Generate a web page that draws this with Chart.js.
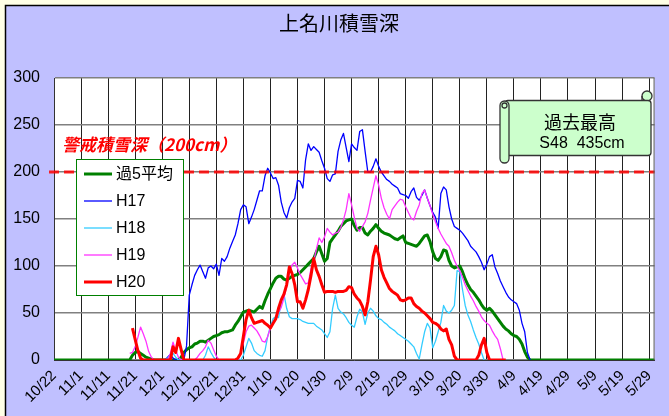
<!DOCTYPE html>
<html>
<head>
<meta charset="utf-8">
<script src="https://cdn.jsdelivr.net/npm/chart.js@4.4.1/dist/chart.umd.min.js"></script>
<style>
  html, body { margin: 0; padding: 0; background: #FFFFE6; }
  canvas { display: block; }
</style>
</head>
<body>
<canvas id="snowChart" width="669" height="416"></canvas>
<script>
// x軸の目盛 (10日おき、10/22 = 0日目)
const xTickLabels = ['10/22', '11/1', '11/11', '11/21', '12/1', '12/11', '12/21', '12/31',
  '1/10', '1/20', '1/30', '2/9', '2/19', '2/29', '3/10', '3/20', '3/30', '4/9', '4/19',
  '4/29', '5/9', '5/19', '5/29'];
const lastDay = 222;          // 5/31
const yTicks = [0, 50, 100, 150, 200, 250, 300];
const alertDepth = 200;       // 警戒積雪深

// 過5平均 (0日目から)
const avgStart = 0;
const avg5 = [
  0, 0, 0, 0, 0, 0, 0, 0, 0, 0, 0, 0, 0, 0, 0, 0, 0, 0, 0, 0,
  0, 0, 0, 0, 0, 0, 0, 0, 0, 5, 8, 9, 7, 5, 3, 2, 1, 0, 0, 0,
  0, 0, 0, 0, 0, 0, 0, 3, 8, 11, 13, 14, 17, 18, 20, 20, 19, 21, 23, 25,
  26, 27, 29, 30, 30, 31, 32, 37, 41, 46, 51, 52, 53, 52, 51, 54, 57, 55, 63, 70,
  76, 82, 87, 89, 89, 86, 85, 87, 89, 90, 91, 93, 96, 99, 102, 105, 108, 115, 121, 113,
  105, 108, 125, 129, 133, 137, 142, 145, 148, 149, 150, 143, 138, 141, 141, 135, 133, 137, 140, 144,
  140, 137, 135, 134, 133, 131, 129, 128, 130, 132, 125, 124, 123, 122, 121, 124, 128, 132, 133, 126,
  115, 108, 106, 110, 117, 116, 106, 100, 98, 99, 100, 94, 86, 80, 75, 72, 68, 64, 59, 55,
  53, 55, 52, 48, 44, 40, 36, 33, 31, 28, 26, 25, 22, 17, 9, 3, 0, 0, 0, 0,
  0, 0, 0, 0, 0, 0, 0, 0, 0, 0, 0, 0, 0, 0, 0, 0, 0, 0, 0, 0,
  0, 0, 0, 0, 0, 0, 0, 0, 0, 0, 0, 0, 0, 0, 0, 0, 0, 0, 0, 0,
  0, 0, 0
];

// H17 (40日目から)
const h17Start = 40;
const h17 = [
  0, 0, 3, 6, 2, 0, 0, 0, 0,
  15, 69, 80, 90, 96, 101, 94, 87, 98, 100, 97, 102, 90, 108, 105, 110, 119, 126, 133, 145, 160, 165, 163, 145,
  152, 160, 170, 180, 180, 196, 204, 199, 193, 194, 186, 168, 157, 151, 162, 168, 172, 191, 190, 183,
  213, 230, 223, 227, 224, 221, 212, 204, 193, 190, 197, 198, 222, 234, 241, 226, 211, 230, 226, 223, 243, 245, 222, 200, 200, 206, 214,
  206, 200, 196, 192, 190, 187, 185, 183, 177, 176, 175, 172, 179, 183, 173, 170, 175, 181, 172, 164, 157, 152, 140, 177, 184, 181,
  163, 150, 142, 140, 138, 135, 131, 127, 121, 118, 115, 110, 104, 96, 102, 110, 112, 99, 92, 84, 78, 72, 67, 64, 62, 60, 53, 39, 30, 8, 0
];

// H18 (40日目から)
const h18Start = 40;
const h18 = [
  0, 0, 2, 5, 7, 3, 0, 0, 0, 0, 0, 0, 0, 0, 0, 0, 5, 14, 8, 3,
  0, 0, 0, 0, 0, 0, 0, 0, 0, 0,
  5, 14, 23, 18, 10, 7, 5, 4, 10, 25,
  36, 44, 46, 45, 62, 70, 55, 46, 44, 44,
  44, 43, 41, 40, 39, 39, 39, 36, 34, 32,
  28, 24, 30, 55, 69, 55, 51, 49, 45, 40,
  37, 35, 46, 54, 51, 38, 50, 55, 52, 47,
  44, 43, 40, 38, 35, 33, 31, 28, 26, 24,
  22, 20, 17, 14, 7, 1, 16, 30, 39, 34,
  13, 20, 30, 40, 58, 52, 50, 53, 58, 95,
  94, 75, 58, 48, 41, 32, 24, 17, 8, 0
];

// H19 (28日目から)
const h19Start = 28;
const h19 = [
  7, 8, 14, 24, 35, 28, 20, 9, 3,
  0, 0, 0, 0, 0, 0,
  7, 19, 10, 3,
  0, 0, 0, 0, 0, 0,
  3, 7, 10, 14, 21, 18, 11, 4,
  0, 0, 0, 0, 0, 0, 0, 0,
  8, 18, 30, 36, 37, 34, 31, 26, 20, 19, 25, 34, 40, 44, 51, 56, 66, 78, 92, 101,
  104, 98, 91, 86, 81, 82, 97, 105, 118, 130, 125, 131, 140, 136, 133, 135,
  136, 141, 149, 160, 177, 165, 152, 140, 137, 142, 147, 156, 170, 183, 196, 186, 172, 162, 155, 150,
  160, 164, 168, 171, 170, 163, 157, 151, 149, 158, 165, 177, 181, 172, 164, 155, 147, 140, 134, 129,
  124, 121, 114, 106, 100, 95, 88, 80, 74, 68, 63, 57, 52, 46, 42, 39, 37, 31, 26, 22,
  12, 0
];

// H20 (29日目から)
const h20Start = 29;
const h20 = [
  34, 22, 10, 2, 0, 0, 0, 0, 0, 0, 0, 0, 0, 0, 0, 14, 8, 23, 11, 0,
  0, 0, 0, 0, 0, 0, 0, 0, 0, 0, 0, 0, 0, 0, 0, 0, 0, 0, 0,
  2, 7, 25, 43, 53, 45, 39, 40, 41, 42, 39, 37, 34, 39, 44, 55, 64, 70, 80, 99,
  92, 80, 62, 62, 55, 64, 75, 90, 108, 96, 89, 80, 72,
  73, 73, 73, 72, 73, 73, 73, 74, 78, 77, 70, 66, 63, 57, 48, 62, 85, 110, 121,
  112, 96, 88, 82, 76, 73, 71, 69, 64, 63, 64, 66, 66, 60, 57, 55, 52, 50, 47, 44,
  40, 39, 37, 33, 31, 33, 22, 16, 4,
  0, 0, 0, 0, 0, 0, 0, 0, 5, 16, 23, 8, 0, 0, 0, 0, 0, 0, 0
];

function toPoints(start, vals) {
  return vals.map((v, i) => ({ x: start + i, y: v }));
}

const FONT_SANS = "'Liberation Sans', Arial, 'Noto Sans CJK JP', sans-serif";
const FONT_JP = "'Noto Sans CJK JP', 'Liberation Sans', sans-serif";

// 背景・タイトル
const backdrop = {
  id: 'backdrop',
  beforeDraw(chart) {
    const { ctx, width, height, chartArea } = chart;
    ctx.save();
    ctx.fillStyle = '#FFFFE6';
    ctx.fillRect(0, 0, width, height);
    ctx.fillStyle = '#C0C0FF';
    ctx.fillRect(5, 5, width, height);
    ctx.strokeStyle = '#000';
    ctx.lineWidth = 1.5;
    ctx.beginPath();
    ctx.moveTo(5.5, height);
    ctx.lineTo(5.5, 5.5);
    ctx.lineTo(width, 5.5);
    ctx.stroke();
    ctx.fillStyle = '#fff';
    ctx.fillRect(chartArea.left, chartArea.top, chartArea.right - chartArea.left, chartArea.bottom - chartArea.top);
    ctx.fillStyle = '#000';
    ctx.font = `20px ${FONT_JP}`;
    ctx.textAlign = 'center';
    ctx.textBaseline = 'middle';
    ctx.fillText('上名川積雪深', 339, 23);
    ctx.restore();
  },
  afterDraw(chart) {
    const { ctx, chartArea } = chart;
    ctx.save();
    ctx.strokeStyle = '#555';
    ctx.lineWidth = 1;
    ctx.beginPath();
    ctx.moveTo(chartArea.right - 0.5, chartArea.top);
    ctx.lineTo(chartArea.right - 0.5, chartArea.bottom);
    ctx.stroke();
    ctx.restore();
  }
};

// 警戒線
const alertLine = {
  id: 'alertLine',
  afterDatasetsDraw(chart) {
    const { ctx, chartArea, scales } = chart;
    const y = scales.y.getPixelForValue(alertDepth);
    ctx.save();
    ctx.strokeStyle = 'rgba(255,0,0,0.85)';
    ctx.lineWidth = 3;
    ctx.setLineDash([10, 5]);
    ctx.beginPath();
    ctx.moveTo(chartArea.left - 5, y);
    ctx.lineTo(chartArea.right, y);
    ctx.stroke();
    ctx.setLineDash([]);
    ctx.fillStyle = '#FF0000';
    ctx.font = `italic bold 17px ${FONT_JP}`;
    ctx.textAlign = 'left';
    ctx.textBaseline = 'middle';
    ctx.fillText('警戒積雪深（200cm）', 62, 145);
    ctx.restore();
  }
};

// 凡例 (枠つき)
const boxLegend = {
  id: 'boxLegend',
  afterDraw(chart) {
    const { ctx } = chart;
    const x = 76, y = 159.5, w = 107, h = 136;
    ctx.save();
    ctx.fillStyle = '#fff';
    ctx.fillRect(x, y, w, h);
    ctx.strokeStyle = '#008000';
    ctx.lineWidth = 1;
    ctx.strokeRect(x + 0.5, y, w, h);
    ctx.font = `16px ${FONT_SANS}`;
    ctx.textAlign = 'left';
    ctx.textBaseline = 'middle';
    chart.data.datasets.forEach((ds, i) => {
      const ly = 174 + i * 27;
      ctx.strokeStyle = ds.borderColor;
      ctx.lineWidth = ds.borderWidth;
      ctx.beginPath();
      ctx.moveTo(84, ly);
      ctx.lineTo(112, ly);
      ctx.stroke();
      ctx.fillStyle = '#000';
      ctx.fillText(ds.label, 116, ly + 1);
    });
    ctx.restore();
  }
};

// 過去最高 (巻物)
const recordNote = {
  id: 'recordNote',
  afterDraw(chart) {
    const { ctx } = chart;
    ctx.save();
    ctx.fillStyle = '#CCFFCC';
    ctx.strokeStyle = '#333';
    ctx.lineWidth = 1.3;
    // 右上の巻き
    ctx.beginPath();
    ctx.arc(647, 96, 5, 0, Math.PI * 2);
    ctx.fill();
    ctx.stroke();
    // 本体
    ctx.beginPath();
    ctx.roundRect(505, 100.5, 146, 55, 3);
    ctx.fill();
    ctx.stroke();
    ctx.beginPath();
    ctx.moveTo(642, 100.5);
    ctx.lineTo(642, 96);
    ctx.stroke();
    // 左の巻き
    ctx.beginPath();
    ctx.roundRect(500, 101, 9, 62, 4.5);
    ctx.fill();
    ctx.stroke();
    ctx.beginPath();
    ctx.arc(504.5, 105.5, 2.5, 0, Math.PI * 2);
    ctx.stroke();
    ctx.fillStyle = '#000';
    ctx.textAlign = 'center';
    ctx.textBaseline = 'middle';
    ctx.font = `18px ${FONT_JP}`;
    ctx.fillText('過去最高', 580, 122);
    ctx.font = `16px ${FONT_SANS}`;
    ctx.fillText('S48  435cm', 582, 144);
    ctx.restore();
  }
};

const ctxSnow = document.getElementById('snowChart').getContext('2d');
new Chart(ctxSnow, {
  type: 'line',
  data: {
    datasets: [
      { label: '過5平均', data: toPoints(avgStart, avg5), borderColor: '#008000', borderWidth: 3, order: 5 },
      { label: 'H17', data: toPoints(h17Start, h17), borderColor: '#0000FF', borderWidth: 1.3, order: 4 },
      { label: 'H18', data: toPoints(h18Start, h18), borderColor: '#33CCFF', borderWidth: 1.3, order: 3 },
      { label: 'H19', data: toPoints(h19Start, h19), borderColor: '#FF33FF', borderWidth: 1.3, order: 2 },
      { label: 'H20', data: toPoints(h20Start, h20), borderColor: '#FF0000', borderWidth: 3, order: 1 }
    ]
  },
  options: {
    responsive: false,
    animation: false,
    devicePixelRatio: 1,
    layout: { padding: { top: 78, right: 13, left: 0, bottom: 0 } },
    elements: {
      point: { radius: 0 },
      line: { tension: 0, fill: false, borderJoinStyle: 'round' }
    },
    scales: {
      x: {
        type: 'linear',
        min: 0,
        max: lastDay,
        afterFit(scale) { scale.height = 56; },
        grid: { color: '#222', lineWidth: 1, drawTicks: false },
        border: { color: '#333', width: 1 },
        ticks: {
          stepSize: 10,
          includeBounds: false,
          autoSkip: false,
          minRotation: 45,
          maxRotation: 45,
          padding: 7,
          color: '#000',
          font: { size: 15, family: FONT_SANS },
          callback: (v) => xTickLabels[Math.round(v / 10)]
        }
      },
      y: {
        min: yTicks[0],
        max: yTicks[yTicks.length - 1],
        afterFit(scale) { scale.width = 54; },
        grid: { color: '#808080', lineWidth: 1.5, drawTicks: false },
        border: { color: '#333', width: 1 },
        ticks: {
          stepSize: 50,
          padding: 14,
          color: '#000',
          font: { size: 16, family: FONT_SANS }
        }
      }
    },
    plugins: {
      legend: { display: false },
      tooltip: { enabled: false },
      title: { display: false }
    }
  },
  plugins: [backdrop, alertLine, boxLegend, recordNote]
});
</script>
</body>
</html>
